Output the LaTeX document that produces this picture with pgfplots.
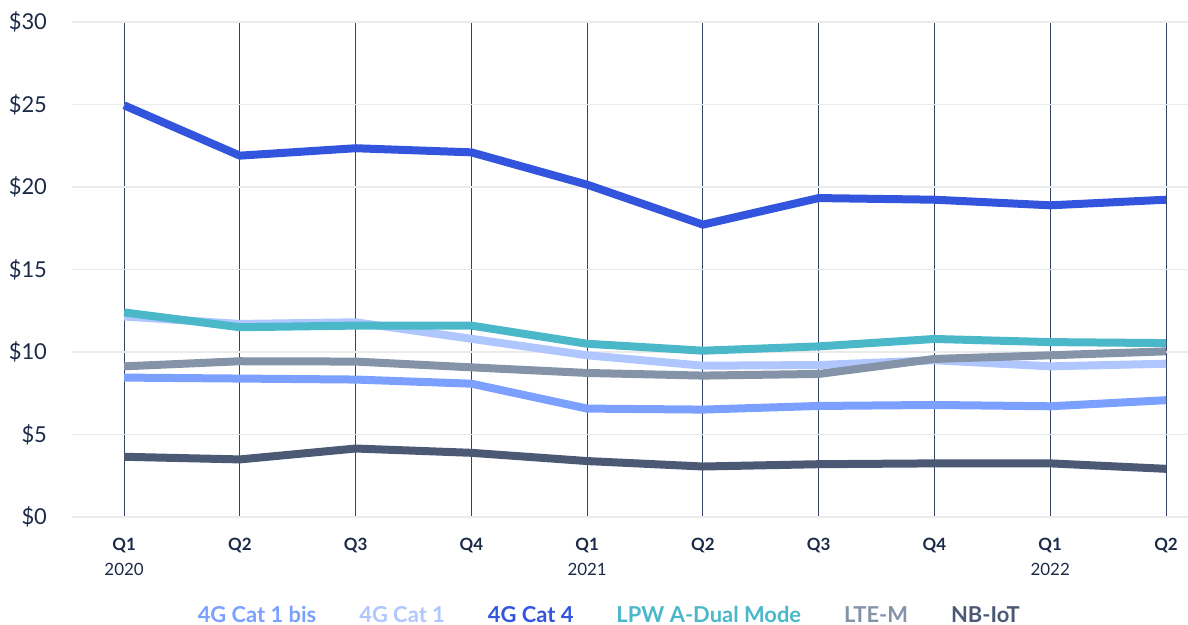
\documentclass[border=0pt]{standalone}
\usepackage{pgfplots}
\pgfplotsset{compat=1.18}
\usepackage{fontspec}
\setmainfont{Lato}
\definecolor{cbis}{HTML}{7BA0FF}
\definecolor{cone}{HTML}{B0C6FF}
\definecolor{cfour}{HTML}{3355DD}
\definecolor{clpwa}{HTML}{4BB8CA}
\definecolor{cltem}{HTML}{8493A8}
\definecolor{cnb}{HTML}{4B5975}
\definecolor{ctxt}{HTML}{1B2A47}
\definecolor{cvgrid}{HTML}{34445E}
\definecolor{chgrid}{HTML}{EBEBEB}
\begin{document}
\begin{tikzpicture}
\useasboundingbox (-36bp,-54bp) rectangle (558bp,258.5bp);
\begin{axis}[
  scale only axis,
  width=558bp, height=247.5bp,
  at={(0,0)}, anchor=south west,
  xmin=-0.45, xmax=9.19,
  ymin=0, ymax=30,
  axis line style={draw=none},
  major tick length=0pt,
  xtick={0,1,...,9},
  xticklabels={{\textbf{Q1}\\2020},{\textbf{Q2}},{\textbf{Q3}},{\textbf{Q4}},{\textbf{Q1}\\2021},{\textbf{Q2}},{\textbf{Q3}},{\textbf{Q4}},{\textbf{Q1}\\2022},{\textbf{Q2}}},
  xticklabel style={align=center, anchor=north, yshift=-7bp, font=\fontsize{8.5}{12.5}\selectfont, text=ctxt},
  ytick={0,5,...,30},
  yticklabels={\$0,\$5,\$10,\$15,\$20,\$25,\$30},
  yticklabel style={anchor=east, xshift=-9bp, font=\fontsize{11}{13}\selectfont, text=ctxt},
  xmajorgrids, ymajorgrids,
  x grid style={cvgrid, line width=0.5bp},
  y grid style={chgrid, line width=0.6bp},
  legend columns=6,
  legend style={at={(0.481,-0.2)}, anchor=center, draw=none, fill=none,
    font=\fontsize{11}{13}\selectfont\bfseries,
    /tikz/every even column/.append style={column sep=17.5bp},
    inner sep=0pt},
  legend image code/.code={},
  every axis plot/.append style={line width=4bp, line join=round},
]
\addplot[cbis] coordinates {(0,8.45) (1,8.39) (2,8.33) (3,8.08) (4,6.57) (5,6.51) (6,6.73) (7,6.79) (8,6.71) (9,7.08)};
\addlegendentry{\textcolor{cbis}{4G Cat 1 bis}}
\addplot[cone] coordinates {(0,12.15) (1,11.7) (2,11.8) (3,10.8) (4,9.8) (5,9.17) (6,9.21) (7,9.5) (8,9.13) (9,9.29)};
\addlegendentry{\textcolor{cone}{4G Cat 1}}
\addplot[cfour] coordinates {(0,24.95) (1,21.9) (2,22.35) (3,22.1) (4,20.14) (5,17.72) (6,19.33) (7,19.23) (8,18.89) (9,19.23)};
\addlegendentry{\textcolor{cfour}{4G Cat 4}}
\addplot[clpwa] coordinates {(0,12.4) (1,11.5) (2,11.6) (3,11.6) (4,10.5) (5,10.08) (6,10.34) (7,10.79) (8,10.6) (9,10.54)};
\addlegendentry{\textcolor{clpwa}{LPW A-Dual Mode}}
\addplot[cltem] coordinates {(0,9.13) (1,9.44) (2,9.42) (3,9.07) (4,8.73) (5,8.57) (6,8.67) (7,9.58) (8,9.8) (9,10.04)};
\addlegendentry{\textcolor{cltem}{LTE-M}}
\addplot[cnb] coordinates {(0,3.65) (1,3.49) (2,4.15) (3,3.89) (4,3.39) (5,3.06) (6,3.2) (7,3.25) (8,3.25) (9,2.92)};
\addlegendentry{\textcolor{cnb}{NB-IoT}}
\end{axis}
\end{tikzpicture}
\end{document}
